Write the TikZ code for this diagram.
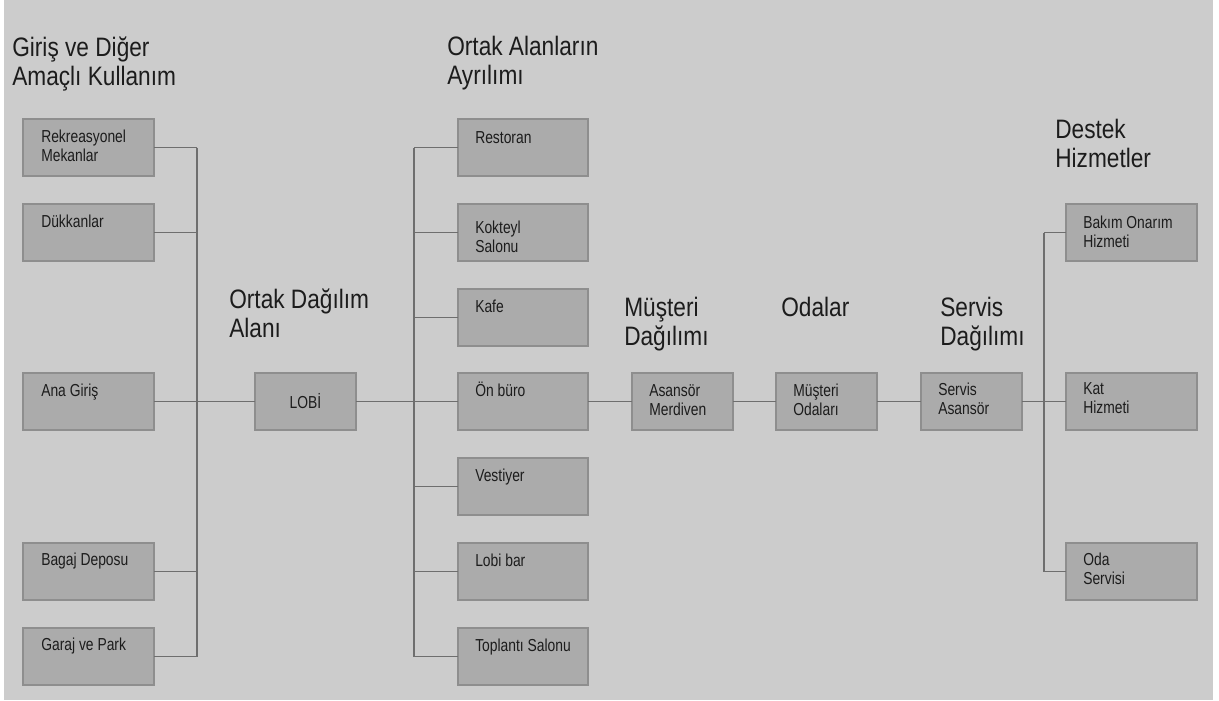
\documentclass[tikz,border=0pt]{standalone}
\usepackage{fontspec}
\usetikzlibrary{calc}
\newfontfamily\headfamily[FakeStretch=0.85]{Liberation Sans}
\newfontfamily\cellfamily[FakeStretch=0.8]{Liberation Sans}
\definecolor{pagebg}{HTML}{CCCCCC}
\definecolor{cellfill}{HTML}{ABABAB}
\definecolor{celledge}{HTML}{8E8E8E}
\definecolor{wire}{HTML}{6E6E6E}
\definecolor{ink}{HTML}{1C1C1C}
\tikzset{
  cell/.style={draw=celledge, fill=cellfill, line width=0.9pt, inner sep=0pt,
    outer sep=0pt, anchor=north west, minimum height=57*0.75pt},
  widecell/.style={cell, minimum width=131*0.75pt},
  smallcell/.style={cell, minimum width=101*0.75pt, text=ink,
    font=\cellfamily\fontsize{13}{14.25}\selectfont},
  celltext/.style={anchor=base west, inner sep=0pt, align=left, text=ink,
    font=\cellfamily\fontsize{13}{14.25}\selectfont},
  % two-line cell text: baseline given for the first line
  celltext2/.style={celltext, yshift=-14.25pt},
  heading/.style={anchor=base west, inner sep=0pt, align=left, text=ink,
    font=\headfamily\fontsize{20}{21.75}\selectfont},
  heading2/.style={heading, yshift=-21.75pt},
  wireline/.style={draw=wire, line width=0.8pt}
}
\begin{document}
\begin{tikzpicture}[x=0.75pt, y=-0.75pt]
\useasboundingbox (0,0) rectangle (1219,700);
\fill[white] (0,0) rectangle (1219,700);
\fill[pagebg] (4,0) rectangle (1213,700);

% headings
\node[heading2] (h-giris) at (12,56) {Giriş ve Diğer\\Amaçlı Kullanım};
\node[heading2] (h-ortak) at (229,308) {Ortak Dağılım\\Alanı};
\node[heading2] (h-alan) at (447,55) {Ortak Alanların\\Ayrılımı};
\node[heading2] (h-musteri) at (624,316) {Müşteri\\Dağılımı};
\node[heading] (h-odalar) at (781,316) {Odalar};
\node[heading2] (h-servis) at (940,316) {Servis\\Dağılımı};
\node[heading2] (h-destek) at (1055,138) {Destek\\Hizmetler};

% left column
\node[widecell] (rek) at (23,119) {};
\node[widecell] (duk) at (23,204) {};
\node[widecell] (ana) at (23,373) {};
\node[widecell] (bag) at (23,543) {};
\node[widecell] (gar) at (23,628) {};
\node[celltext2] (rek-t) at ($(rek.north west)+(18,23)$) {Rekreasyonel\\Mekanlar};
\node[celltext] (duk-t) at ($(duk.north west)+(18,23)$) {Dükkanlar};
\node[celltext] (ana-t) at ($(ana.north west)+(18,23)$) {Ana Giriş};
\node[celltext] (bag-t) at ($(bag.north west)+(18,22)$) {Bagaj Deposu};
\node[celltext] (gar-t) at ($(gar.north west)+(18,22)$) {Garaj ve Park};

% lobby
\node[smallcell] (lobi) at (255,373) {LOBİ};

% middle column
\node[widecell, minimum width=130*0.75pt] (res) at (458,119) {};
\node[widecell, minimum width=130*0.75pt] (kok) at (458,204) {};
\node[widecell, minimum width=130*0.75pt] (kaf) at (458,289) {};
\node[widecell, minimum width=130*0.75pt] (onb) at (458,373) {};
\node[widecell, minimum width=130*0.75pt] (ves) at (458,458) {};
\node[widecell, minimum width=130*0.75pt] (lob) at (458,543) {};
\node[widecell, minimum width=130*0.75pt] (top) at (458,628) {};
\node[celltext] (res-t) at ($(res.north west)+(17,24)$) {Restoran};
\node[celltext2] (kok-t) at ($(kok.north west)+(17,29)$) {Kokteyl\\Salonu};
\node[celltext] (kaf-t) at ($(kaf.north west)+(17,23)$) {Kafe};
\node[celltext] (onb-t) at ($(onb.north west)+(17,23)$) {Ön büro};
\node[celltext] (ves-t) at ($(ves.north west)+(17,23)$) {Vestiyer};
\node[celltext] (lob-t) at ($(lob.north west)+(17,23)$) {Lobi bar};
\node[celltext] (top-t) at ($(top.north west)+(17,23)$) {Toplantı Salonu};

% horizontal chain
\node[cell, minimum width=101*0.75pt] (asa) at (632,373) {};
\node[cell, minimum width=101*0.75pt] (mus) at (776,373) {};
\node[cell, minimum width=101*0.75pt] (ser) at (921,373) {};
\node[celltext2] (asa-t) at ($(asa.north west)+(17,23)$) {Asansör\\Merdiven};
\node[celltext2] (mus-t) at ($(mus.north west)+(17,23)$) {Müşteri\\Odaları};
\node[celltext2] (ser-t) at ($(ser.north west)+(17,22)$) {Servis\\Asansör};

% right column
\node[widecell] (bak) at (1066,204) {};
\node[widecell] (kat) at (1066,373) {};
\node[widecell] (oda) at (1066,543) {};
\node[celltext2] (bak-t) at ($(bak.north west)+(17,24)$) {Bakım Onarım\\Hizmeti};
\node[celltext2] (kat-t) at ($(kat.north west)+(17,21)$) {Kat\\Hizmeti};
\node[celltext2] (oda-t) at ($(oda.north west)+(17,22)$) {Oda\\Servisi};

% bus lines
\coordinate (lbus) at (197,402);
\coordinate (mbus) at (414,402);
\coordinate (rbus) at (1044,402);

\foreach \b in {rek,duk,ana,bag,gar}
  \draw[wireline] (\b.east) -- (\b.east -| lbus);
\draw[wireline] (rek.east -| lbus) -- (gar.east -| lbus);

\foreach \b in {res,kok,kaf,onb,ves,lob,top}
  \draw[wireline] (\b.west) -- (\b.west -| mbus);
\draw[wireline] (res.west -| mbus) -- (top.west -| mbus);

\foreach \b in {bak,kat,oda}
  \draw[wireline] (\b.west) -- (\b.west -| rbus);
\draw[wireline] (bak.west -| rbus) -- (oda.west -| rbus);

\draw[wireline] (ana.east) -- (lobi.west);
\draw[wireline] (lobi.east) -- (onb.west);
\draw[wireline] (onb.east) -- (asa.west);
\draw[wireline] (asa.east) -- (mus.west);
\draw[wireline] (mus.east) -- (ser.west);
\draw[wireline] (ser.east) -- (kat.west);
\end{tikzpicture}
\end{document}
